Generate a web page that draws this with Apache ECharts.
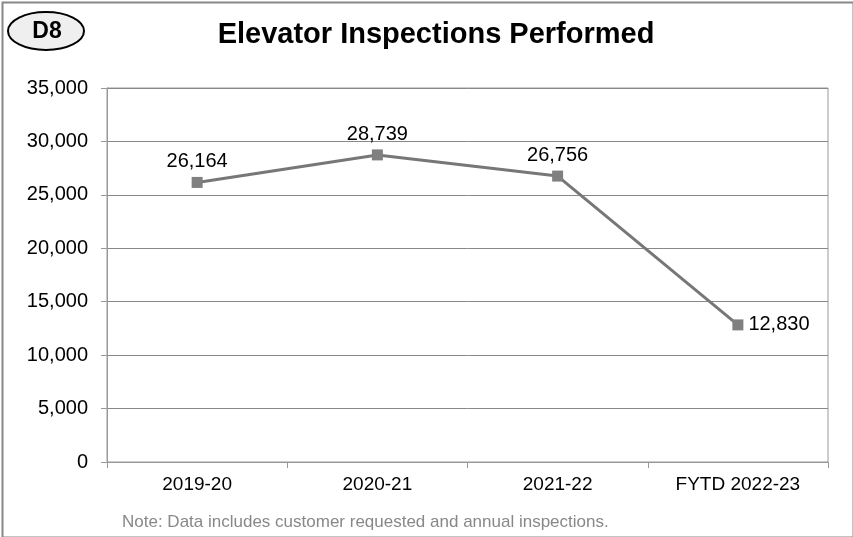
<!DOCTYPE html>
<html><head><meta charset="utf-8">
<script src="https://cdn.jsdelivr.net/npm/echarts@6/dist/echarts.min.js"></script>
<style>html,body{margin:0;padding:0;background:#fff}#c{width:853px;height:537px}</style>
</head><body><div id="c"></div>
<script>
const categories = ['2019-20', '2020-21', '2021-22', 'FYTD 2022-23'];
const inspections = [26164, 28739, 26756, 12830];
const yTicks = [0, 5000, 10000, 15000, 20000, 25000, 30000, 35000];
const titleText = 'Elevator Inspections Performed';
const badgeText = 'D8';
const noteText = 'Note: Data includes customer requested and annual inspections.';

const labelPos = ['top', 'top', 'top', 'right'];
const chart = echarts.init(document.getElementById('c'), null, {renderer: 'canvas'});
const fmt = v => v.toLocaleString('en-US');
chart.setOption({
  animation: false,
  backgroundColor: '#fff',
  title: {
    text: titleText, left: 431, textAlign: 'center', top: 15,
    textStyle: {fontFamily: 'Liberation Sans, Arial', fontWeight: 'bold', fontSize: 29, color: '#000'}
  },
  grid: {left: 107, right: 25, top: 88, bottom: 75, show: true, borderColor: '#999', borderWidth: 1},
  xAxis: {
    type: 'category', data: categories, boundaryGap: true,
    axisLine: {lineStyle: {color: '#999', width: 1}},
    axisTick: {show: true, length: 6, lineStyle: {color: '#999'}, alignWithLabel: false},
    axisLabel: {fontFamily: 'Liberation Sans, Arial', fontSize: 19, color: '#000', margin: 13}
  },
  yAxis: {
    type: 'value', min: yTicks[0], max: yTicks[yTicks.length - 1], interval: 5000,
    axisLine: {show: true, lineStyle: {color: '#999'}},
    axisTick: {show: true, length: 6, lineStyle: {color: '#999'}},
    splitLine: {lineStyle: {color: '#888', width: 1}},
    axisLabel: {fontFamily: 'Liberation Sans, Arial', fontSize: 20, color: '#000', margin: 19, formatter: v => fmt(v)}
  },
  series: [{
    type: 'line', data: inspections.map((v, i) => ({value: v, label: {position: labelPos[i]}})),
    lineStyle: {color: '#777', width: 3},
    itemStyle: {color: '#808080'},
    symbol: 'rect', symbolSize: 11,
    label: {show: true, fontFamily: 'Liberation Sans, Arial', fontSize: 20, color: '#000', distance: 5, formatter: p => fmt(p.value)}
  }],
  graphic: [
    {type: 'rect', left: 0, top: 0, shape: {x: 1, y: 1, width: 851, height: 535}, style: {fill: null, stroke: '#888', lineWidth: 2}, silent: true},
    {type: 'ellipse', shape: {cx: 46, cy: 31, rx: 38, ry: 19}, style: {fill: '#efefef', stroke: '#000', lineWidth: 2}},
    {type: 'text', x: 47, y: 32, style: {text: badgeText, fill: '#000', font: 'bold 23px "Liberation Sans", Arial', align: 'center', verticalAlign: 'middle'}},
    {type: 'text', x: 122, y: 522, style: {text: noteText, fill: '#888', font: '17px "Liberation Sans", Arial', align: 'left', verticalAlign: 'middle'}}
  ]
});
</script></body></html>
